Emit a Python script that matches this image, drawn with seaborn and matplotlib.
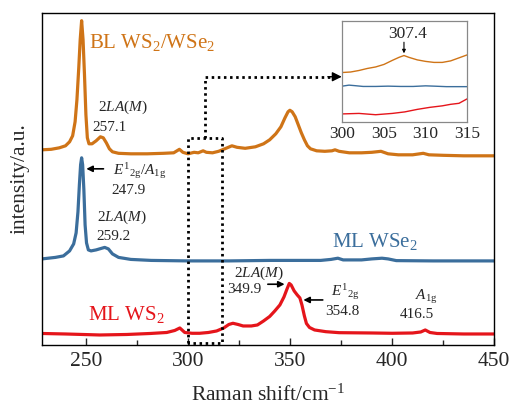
import numpy as np
import pandas as pd
import matplotlib
matplotlib.use("Agg")
import matplotlib.pyplot as plt
import seaborn as sns

# ---------------- data ----------------
bl_x = [228.5, 233, 237, 240, 242, 243.5, 244.7, 245.6, 246.5, 247.2, 247.9, 248.6, 249.3, 250,
        250.7, 251.5, 253, 255, 257.1, 258.5, 260, 261.5, 263, 266, 272, 280, 288, 293, 295.8,
        297.5, 300, 303, 305, 307.4, 309, 312, 315, 318, 321.5, 324, 328, 333, 337, 340, 343,
        345.5, 347.5, 349, 349.9, 351, 352.5, 354, 355.5, 357, 358.5, 360, 363, 367, 370.5, 372,
        374, 379, 385, 390, 394.5, 398, 403, 410, 415.2, 418, 425, 435, 450]
bl_y = [195, 195.5, 197, 199, 203, 209, 223, 245, 277, 305, 324, 305, 270, 230,
        207, 201, 201, 204, 208, 207, 202, 196, 193, 191.5, 191, 191, 191.5, 192, 195.5,
        192.5, 191, 192.5, 192, 194, 192.5, 192, 193.5, 196, 199, 197.5, 196.5, 198, 201, 205, 211,
        218, 227, 233, 234.5, 233, 228, 220, 212, 205, 199, 196, 194, 193.5, 194, 195,
        193.5, 192, 192, 192.5, 193.5, 191, 190, 190, 191.5, 190, 189.5, 189, 189]

wse2_x = [228.5, 235, 239, 242, 244, 245.2, 246.1, 246.8, 247.4, 247.9, 248.4, 249, 249.6, 250.3,
          251.2, 252.5, 255, 257.5, 259.2, 261, 263, 266, 272, 282, 300, 320, 340, 365, 370,
          373.4, 376, 385, 390, 395, 398, 402, 420, 450]
wse2_y = [86, 87.5, 89, 94, 101, 112, 133, 160, 180, 187, 180, 155, 120, 102,
          95, 94, 95, 96.5, 97.5, 96, 91, 87.5, 85.5, 84.5, 84, 84, 84.5, 84.5, 85.5,
          86.7, 85, 85, 86, 86.7, 86, 84.3, 84, 84]

ws2_x = [228.5, 240, 256.8, 270, 281.5, 289.6, 293.5, 296, 298.4, 302, 305.7, 310, 314, 317.5,
         320, 322, 324.5, 327, 331, 334, 337, 340, 342.5, 345, 347, 348.5, 349.6, 350.5, 352,
         353.5, 354.8, 355.8, 357, 358, 359.5, 362, 367.5, 374, 390, 400, 410, 414, 416.2,
         418.5, 422, 435, 450]
ws2_y = [11.5, 11, 10, 10.5, 11.5, 12.5, 14.5, 17, 12.5, 11.7, 11.7, 12.5, 14, 17,
         20.5, 21.7, 20.5, 19, 19, 20, 24, 28.5, 34, 40, 48, 56, 61.5, 60, 54,
         50, 47, 40, 29, 21.5, 17.5, 15, 13.3, 12.3, 12, 11.7, 12, 13, 15,
         12.5, 11.5, 11, 11]

# inset (zoom 300-315 cm-1)
in_bl_x = [300, 301, 302, 303, 304, 305, 306, 306.8, 307.4, 308, 309, 310, 311, 312, 313, 314, 315]
in_bl_y = [0.49, 0.495, 0.51, 0.53, 0.545, 0.57, 0.61, 0.64, 0.658, 0.64, 0.615, 0.6, 0.59,
           0.59, 0.605, 0.635, 0.665]
in_wse2_x = [300, 300.8, 301.5, 302.5, 304, 305.5, 307, 308.5, 310, 311, 312.5, 315]
in_wse2_y = [0.355, 0.365, 0.36, 0.352, 0.352, 0.355, 0.352, 0.352, 0.358, 0.355, 0.35, 0.35]
in_ws2_x = [300, 302, 304, 306, 307.5, 309, 310.5, 312, 313, 314, 315]
in_ws2_y = [0.08, 0.085, 0.072, 0.085, 0.1, 0.125, 0.145, 0.16, 0.175, 0.185, 0.23]

x_ticks = [250, 300, 350, 400, 450]
inset_ticks = [300, 305, 310, 315]

# ---------------- style ----------------
sns.set_style("white")
plt.rcParams['font.family'] = ['Liberation Serif', 'DejaVu Serif']
plt.rcParams['mathtext.fontset'] = 'custom'
plt.rcParams['mathtext.rm'] = 'Liberation Serif'
plt.rcParams['mathtext.it'] = 'Liberation Serif:italic'
plt.rcParams['mathtext.bf'] = 'Liberation Serif:bold'

C_OR = '#CF7417'
C_BL = '#3B6E9C'
C_RD = '#E5151B'

fig = plt.figure(figsize=(5.13, 4.09), dpi=100)
ax = fig.add_axes([0.0819, 0.1565, 0.9635 - 0.0819, 0.969 - 0.1565])

for xs, ys, c in [(bl_x, bl_y, C_OR), (wse2_x, wse2_y, C_BL), (ws2_x, ws2_y, C_RD)]:
    df = pd.DataFrame({'x': xs, 'y': ys})
    sns.lineplot(data=df, x='x', y='y', ax=ax, color=c, lw=2.3, sort=False,
                 estimator=None, solid_joinstyle='round')

ax.set_xlim(228.5, 450)
ax.set_ylim(0, 332)
ax.set_xticks(x_ticks)
ax.set_xticks([275, 325, 375, 425], minor=True)
ax.set_yticks([])
ax.tick_params(axis='x', which='major', direction='in', length=5, width=1,
               labelsize=15.5, bottom=True, top=False, pad=5)
ax.tick_params(axis='x', which='minor', direction='in', length=3.5, width=1, bottom=True)
for s in ax.spines.values():
    s.set_color('black')
    s.set_linewidth(1.0)
ax.set_xlabel('Raman shift/cm$^{-1}$', fontsize=15.5, labelpad=10)
ax.set_ylabel('intensity/a.u.', fontsize=15.5, labelpad=9)

# series labels
ax.text(251.5, 302, 'BL WS$_2$/WSe$_2$', color=C_OR, fontsize=15, ha='left', va='center')
ax.text(370.7, 103, 'ML WSe$_2$', color=C_BL, fontsize=15, ha='left', va='center')
ax.text(251, 30, 'ML WS$_2$', color=C_RD, fontsize=15, ha='left', va='center')

fs = 11
ax.text(255.9, 237, '2$LA$($M$)', fontsize=fs, ha='left', va='center')
ax.text(253.4, 217, '257.1', fontsize=fs, ha='left', va='center')
ax.text(263.2, 174, '$E^{1}{}_{2\\mathrm{g}}$/$A_{1\\mathrm{g}}$', fontsize=fs, ha='left', va='center')
ax.text(262.5, 154.5, '247.9', fontsize=fs, ha='left', va='center')
ax.text(255.6, 128, '2$LA$($M$)', fontsize=fs, ha='left', va='center')
ax.text(254.9, 108, '259.2', fontsize=fs, ha='left', va='center')
ax.text(322.3, 71.7, '2$LA$($M$)', fontsize=fs, ha='left', va='center')
ax.text(319, 55.7, '349.9', fontsize=fs, ha='left', va='center')
ax.text(370, 53.3, '$E^{1}{}_{2\\mathrm{g}}$', fontsize=fs, ha='left', va='center')
ax.text(367.3, 33.3, '354.8', fontsize=fs, ha='left', va='center')
ax.text(411.1, 48.3, '$A_{1\\mathrm{g}}$', fontsize=fs, ha='left', va='center')
ax.text(403.8, 30, '416.5', fontsize=fs, ha='left', va='center')

arrow_kw = dict(arrowstyle='-|>', color='black', lw=1.2, mutation_scale=9,
                shrinkA=0, shrinkB=0)
ax.annotate('', xy=(250.2, 176), xytext=(258.6, 176), arrowprops=arrow_kw)
ax.annotate('', xy=(347.3, 60.7), xytext=(339.1, 60.7), arrowprops=arrow_kw)
ax.annotate('', xy=(356.5, 45), xytext=(366, 45), arrowprops=arrow_kw)

# dotted zoom box and connector
dot = dict(color='black', lw=2.0, linestyle=(0, (0.9, 1.3)), dash_capstyle='butt')
ax.plot([300, 300, 316.5, 316.5, 300], [2, 207, 207, 2, 2], **dot)
ax.plot([308.25, 308.25, 369.5], [207, 268, 268], **dot)
ax.annotate('', xy=(375.3, 268), xytext=(368.5, 268),
            arrowprops=dict(arrowstyle='-|>', color='black', lw=1.0,
                            mutation_scale=14, shrinkA=0, shrinkB=0))

# ---------------- inset ----------------
axin = fig.add_axes([342.3 / 513, 1 - 122 / 409, 125 / 513, 101 / 409])
for xs, ys, c in [(in_bl_x, in_bl_y, C_OR), (in_wse2_x, in_wse2_y, C_BL), (in_ws2_x, in_ws2_y, C_RD)]:
    df = pd.DataFrame({'x': xs, 'y': ys})
    sns.lineplot(data=df, x='x', y='y', ax=axin, color=c, lw=1.0, sort=False, estimator=None)
axin.set_xlim(300, 315)
axin.set_ylim(0, 1)
axin.set_xticks(inset_ticks)
axin.set_xticks([302.5, 307.5, 312.5], minor=True)
axin.set_yticks([])
axin.set_xlabel('')
axin.set_ylabel('')
axin.tick_params(axis='x', which='major', direction='in', length=3, width=0.8,
                 color='#888888', labelsize=12.5, pad=3)
axin.tick_params(axis='x', which='minor', direction='in', length=2, width=0.8,
                 color='#888888')
for s in axin.spines.values():
    s.set_color('#888888')
    s.set_linewidth(0.9)
axin.text(307.8, 0.87, '307.4', fontsize=12.5, ha='center', va='center')
axin.annotate('', xy=(307.4, 0.68), xytext=(307.4, 0.79),
              arrowprops=dict(arrowstyle='-|>', color='black', lw=0.8,
                              mutation_scale=5, shrinkA=0, shrinkB=0))

fig.savefig('out.png', dpi=100)
